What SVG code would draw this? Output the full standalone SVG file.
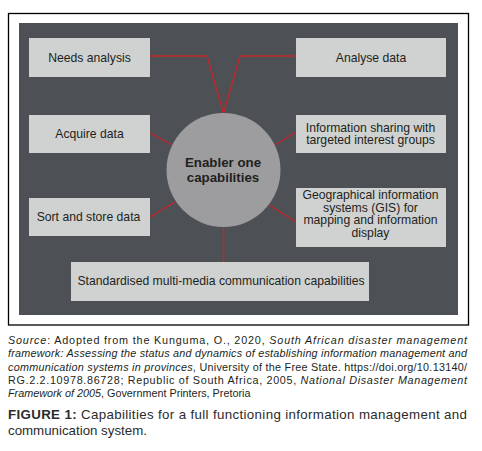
<svg xmlns="http://www.w3.org/2000/svg" width="482" height="451" viewBox="0 0 482 451">
<style>
.box{fill:#d0d2d1;}
.lbl{font-family:"Liberation Sans",Arial,sans-serif;font-size:12.2px;fill:#231f20;text-anchor:middle;}
.ctr{font-family:"Liberation Sans",Arial,sans-serif;font-size:13.3px;font-weight:bold;fill:#231f20;text-anchor:middle;}
.con{stroke:#c1272d;stroke-width:1.4;fill:none;}
.cap{font-family:"Liberation Sans",Arial,sans-serif;font-size:10.8px;fill:#231f20;}
.fig{font-family:"Liberation Sans",Arial,sans-serif;font-size:13.3px;fill:#2b2b2b;}
.i{font-style:italic;}
</style>
<rect x="0" y="0" width="482" height="451" fill="#ffffff"/>
<rect x="8.5" y="13.5" width="460" height="311.5" fill="#ffffff" stroke="#000000" stroke-width="1.3"/>
<rect x="19" y="23" width="439" height="292" fill="#4d5054"/>
<g id="connectors">
<polyline class="con" points="150,56 207,56 223.5,113"/>
<polyline class="con" points="296,56 240,56 223.5,113"/>
<line class="con" x1="150" y1="133" x2="172" y2="145"/>
<line class="con" x1="296" y1="132" x2="275" y2="145"/>
<line class="con" x1="150" y1="217" x2="175" y2="202"/>
<line class="con" x1="296" y1="222" x2="269" y2="205"/>
<line class="con" x1="223.5" y1="227" x2="223.5" y2="262"/>
</g>
<g id="center">
<circle cx="223.5" cy="170" r="57" fill="#9d9d9f"/>
<text class="ctr" x="223" y="167">Enabler one</text>
<text class="ctr" x="223" y="182">capabilities</text>
</g>
<g id="needs">
<rect class="box" x="29" y="38" width="121" height="39"/>
<text class="lbl" x="89.5" y="61.5">Needs analysis</text>
</g>
<g id="acquire">
<rect class="box" x="29" y="115" width="121" height="38"/>
<text class="lbl" x="89.5" y="138">Acquire data</text>
</g>
<g id="sort">
<rect class="box" x="29" y="198" width="121" height="38"/>
<text class="lbl" x="88.5" y="221">Sort and store data</text>
</g>
<g id="analyse">
<rect class="box" x="296" y="38" width="150" height="39"/>
<text class="lbl" x="371" y="61.5">Analyse data</text>
</g>
<g id="sharing">
<rect class="box" x="296" y="115" width="150" height="38"/>
<text class="lbl" x="370.5" y="131.5">Information sharing with</text>
<text class="lbl" x="370.5" y="144">targeted interest groups</text>
</g>
<g id="gis">
<rect class="box" x="296" y="188" width="150" height="59"/>
<text class="lbl" x="370.5" y="199">Geographical information</text>
<text class="lbl" x="370.5" y="211.5">systems (GIS) for</text>
<text class="lbl" x="370.5" y="224">mapping and information</text>
<text class="lbl" x="370.5" y="236.5">display</text>
</g>
<g id="standard">
<rect class="box" x="71" y="262" width="298" height="39"/>
<text class="lbl" x="221" y="285">Standardised multi-media communication capabilities</text>
</g>
<g id="caption">
<text class="cap" x="8" y="343.5" textLength="459" lengthAdjust="spacing"><tspan class="i">Source</tspan>: Adopted from the Kunguma, O., 2020, <tspan class="i">South African disaster management</tspan></text>
<text class="cap i" x="8" y="357" textLength="459" lengthAdjust="spacing">framework: Assessing the status and dynamics of establishing information management and</text>
<text class="cap" x="8" y="370.5" textLength="459" lengthAdjust="spacing"><tspan class="i">communication systems in provinces</tspan>, University of the Free State. https://doi.org/10.13140/</text>
<text class="cap" x="8" y="383.5" textLength="459" lengthAdjust="spacing">RG.2.2.10978.86728; Republic of South Africa, 2005, <tspan class="i">National Disaster Management</tspan></text>
<text class="cap" x="8" y="397"><tspan class="i">Framework of 2005</tspan>, Government Printers, Pretoria</text>
<text class="fig" x="8" y="418.5" textLength="459" lengthAdjust="spacing"><tspan font-weight="bold">FIGURE 1:</tspan> Capabilities for a full functioning information management and</text>
<text class="fig" x="8" y="434.5">communication system.</text>
</g>
</svg>
